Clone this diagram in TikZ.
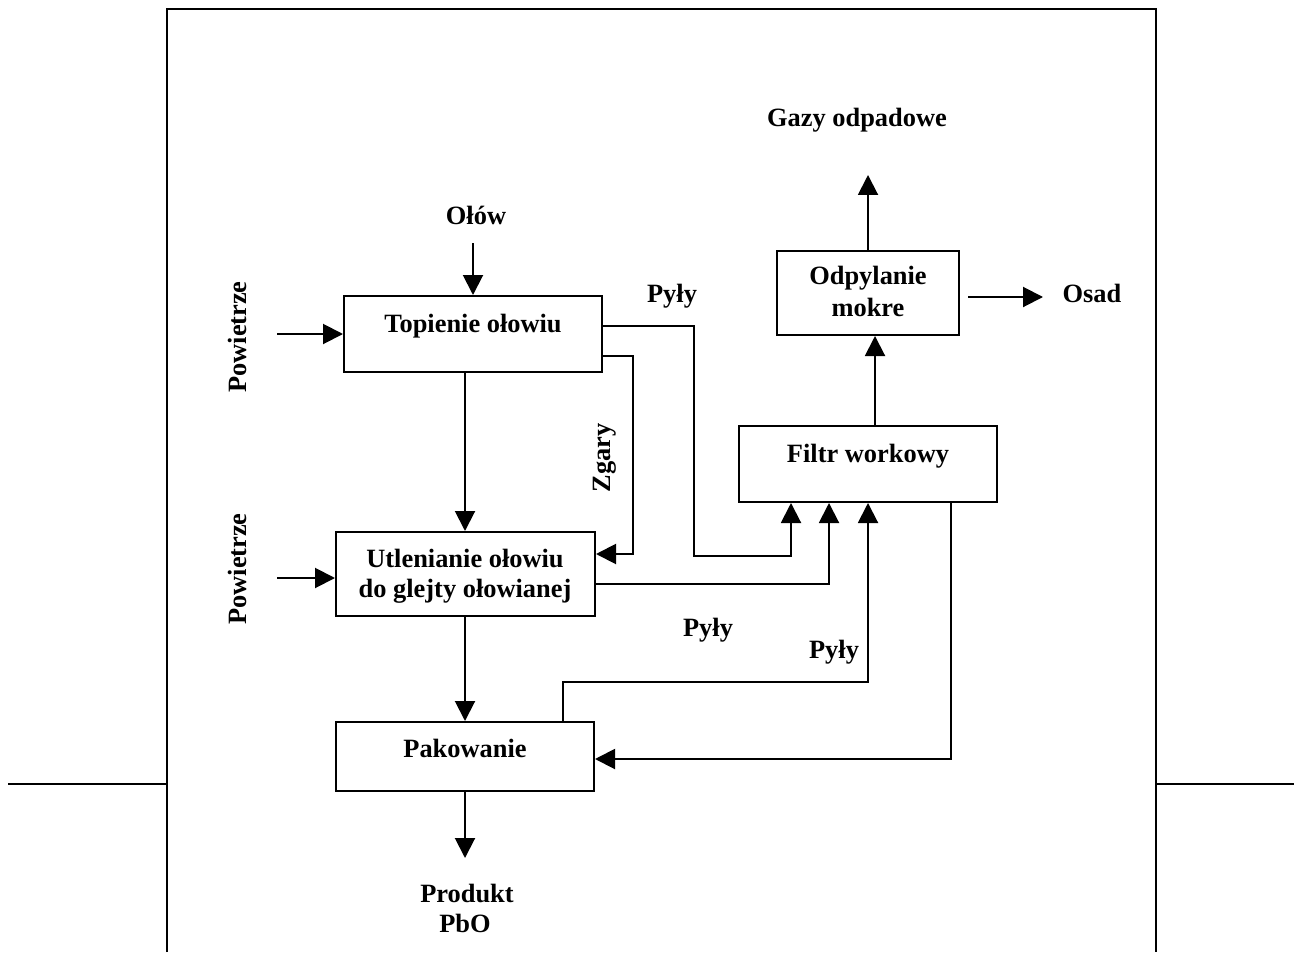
\documentclass[tikz,border=0pt]{standalone}
\usepackage{fontspec}
\setmainfont{Liberation Serif}
\usetikzlibrary{arrows.meta,calc}
\begin{document}
\begin{tikzpicture}[x=0.5pt,y=-0.5pt,
  line width=1pt,
  box/.style={draw,rectangle,inner sep=0pt,line width=1pt},
  lbl/.style={inner sep=0pt,anchor=base,font=\fontsize{13.2pt}{14.5pt}\selectfont\bfseries},
  vlbl/.style={inner sep=0pt,rotate=90,font=\fontsize{13.2pt}{14.5pt}\selectfont\bfseries},
  arr/.style={-{Triangle[length=10pt,width=10pt]}}]
\useasboundingbox (0,0) rectangle (1294,952);

% outer frame and side rules
\draw (167,952) -- (167,9) -- (1156,9) -- (1156,952);
\draw (8,784) -- (167,784);
\draw (1156,784) -- (1294,784);

% process boxes
\node[box,minimum width=129pt,minimum height=38pt] (top) at (473,334) {};
\node[box,minimum width=129.5pt,minimum height=42pt] (oxid) at (465.5,574) {};
\node[box,minimum width=129pt,minimum height=34.5pt] (pack) at (465,756.5) {};
\node[box,minimum width=129pt,minimum height=38pt] (filt) at (868,464) {};
\node[box,minimum width=91pt,minimum height=42pt] (wet) at (868,293) {};

% box captions
\node[lbl] (topt) at (473,332) {Topienie ołowiu};
\node[lbl] (oxt1) at (465,567) {Utlenianie ołowiu};
\node[lbl] (oxt2) at (465,597) {do glejty ołowianej};
\node[lbl] (packt) at (465,757) {Pakowanie};
\node[lbl] (filtt) at (868,462) {Filtr workowy};
\node[lbl] (wett1) at (868,285) {Odpylanie};
\node[lbl] (wett2) at (868,316) {mokre};

% stream labels
\node[lbl] (olow) at (476,225) {Ołów};
\node[vlbl] (air1) at (237,337) {Powietrze};
\node[vlbl] (air2) at (237,569) {Powietrze};
\node[lbl] (pyly1) at (672,302) {Pyły};
\node[lbl] (pyly2) at (708,636) {Pyły};
\node[lbl] (pyly3) at (834,658) {Pyły};
\node[vlbl] (zgary) at (605,458) {Zgary};
\node[lbl] (gazy) at (857,127) {Gazy odpadowe};
\node[lbl] (osad) at (1092,302) {Osad};
\node[lbl] (prod1) at (467,902) {Produkt};
\node[lbl] (prod2) at (465,932) {PbO};

% free ends of feed and product streams
\coordinate (olin) at (473,243);
\coordinate (air1in) at (277,334);
\coordinate (air2in) at (277,578);
\coordinate (gazout) at (868,175);
\coordinate (osadout) at (1043,297);
\coordinate (prodout) at (465,858);

% main flow
\draw[arr] (olin) -- (top.north);
\draw[arr] (air1in) -- (top.west);
\draw[arr] (air2in) -- ($(oxid.west)+(0,4)$);
\draw[arr] (pack.north |- top.south) -- (pack.north |- oxid.north);
\draw[arr] (pack.north |- oxid.south) -- (pack.north);
\draw[arr] (pack.south) -- (prodout);

% dust streams into the bag filter
\draw[arr] ($(top.north east)+(0,31)$) -- ++(91,0) |- ($(filt.south west)+(53,53)$) -- ($(filt.south west)+(53,0)$);
\draw[arr] ($(oxid.north east)+(0,53)$) -| ($(filt.south west)+(91,0)$);
\draw[arr] ($(pack.north west)+(227.5,0)$) -- ++(0,-39) -| (filt.south);

% dross return
\draw[arr] ($(top.north east)+(0,61)$) -| ($(oxid.north east)+(37,23)$) -- ($(oxid.north east)+(0,23)$);

% filter dust to packing
\draw[arr] ($(filt.south west)+(213,0)$) |- ($(pack.north east)+(0,38)$);

% gas cleaning
\draw[arr] ($(filt.north west)+(137,0)$) -- ($(wet.south west)+(99,0)$);
\draw[arr] (wet.north) -- (gazout);
\draw[arr] ($(wet.east)+(8,4)$) -- (osadout);
\end{tikzpicture}
\end{document}
